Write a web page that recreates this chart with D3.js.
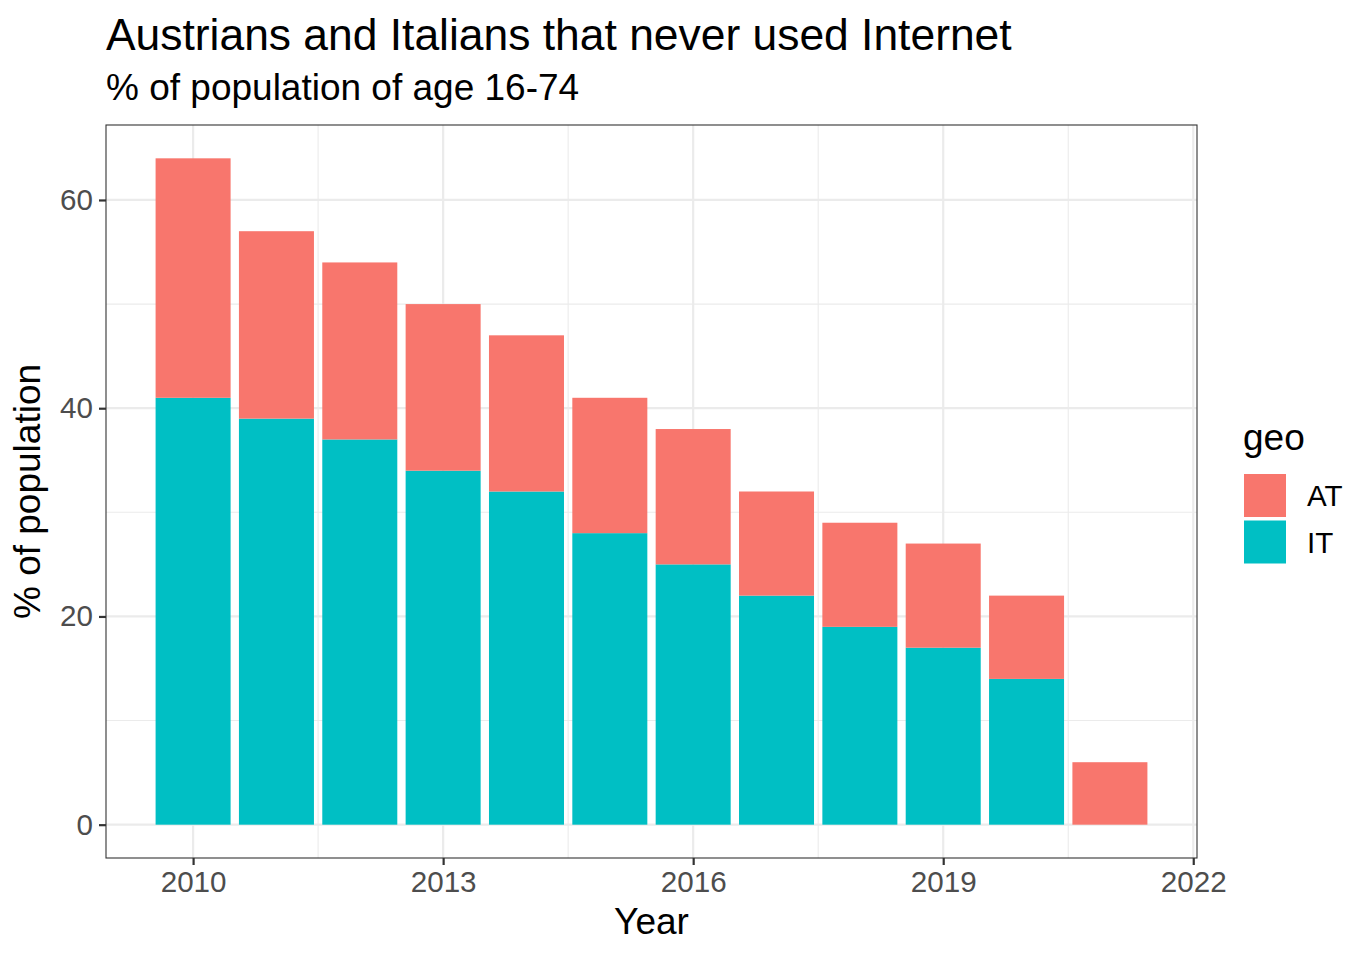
<!DOCTYPE html>
<html><head><meta charset="utf-8">
<script src="https://cdn.jsdelivr.net/npm/d3@7"></script>
<style>body{margin:0;background:#fff}svg text{font-family:"Liberation Sans",Arial,sans-serif}</style>
</head><body>
<svg id="chart" width="1371" height="959"></svg>
<script>
const years = [2010,2011,2012,2013,2014,2015,2016,2017,2018,2019,2020,2021];
const itValues = [41,39,37,34,32,28,25,22,19,17,14,null];
const atValues = [23,18,17,16,15,13,13,10,10,10,8,6];
const seriesNames = ["AT","IT"];
const seriesColors = ["#F8766D","#00BFC4"];
const xTicks = [2010,2013,2016,2019,2022];
const xMinor = [2011.5,2014.5,2017.5,2020.5];
const yTicks = [0,20,40,60];
const yMinor = [10,30,50];
const title = "Austrians and Italians that never used Internet";
const subtitle = "% of population of age 16-74";

const svg = d3.select("#chart");
const L=106, R=1197, T=125, B=858;
const x = d3.scaleLinear().domain([2008.955,2022.045]).range([L,R]);
const y = d3.scaleLinear().domain([-3.2,67.2]).range([B,T]);
const base = 37, tickSize = 29.6;

// grid
const g = svg.append("g");
g.selectAll(".xm").data(xMinor).join("line").attr("x1",d=>x(d)).attr("x2",d=>x(d)).attr("y1",T).attr("y2",B).attr("stroke","#EBEBEB").attr("stroke-width",1.1);
g.selectAll(".ym").data(yMinor).join("line").attr("y1",d=>y(d)).attr("y2",d=>y(d)).attr("x1",L).attr("x2",R).attr("stroke","#EBEBEB").attr("stroke-width",1.1);
g.selectAll(".xM").data(xTicks).join("line").attr("x1",d=>x(d)).attr("x2",d=>x(d)).attr("y1",T).attr("y2",B).attr("stroke","#EBEBEB").attr("stroke-width",2.2);
g.selectAll(".yM").data(yTicks).join("line").attr("y1",d=>y(d)).attr("y2",d=>y(d)).attr("x1",L).attr("x2",R).attr("stroke","#EBEBEB").attr("stroke-width",2.2);

// bars
const bw = 0.9;
const rows = years.map((yr,i)=>({yr, IT: itValues[i]||0, AT: atValues[i]||0}));
const stack = d3.stack().keys(["IT","AT"])(rows);
const color = d3.scaleOrdinal().domain(seriesNames).range(seriesColors);
svg.append("g").selectAll("g").data(stack).join("g").attr("fill",d=>color(d.key))
  .selectAll("rect").data(d=>d.filter(s=>s[1]-s[0]>0)).join("rect")
  .attr("x",d=>x(d.data.yr-bw/2)).attr("width",d=>x(d.data.yr+bw/2)-x(d.data.yr-bw/2))
  .attr("y",d=>y(d[1])).attr("height",d=>y(d[0])-y(d[1]));

// border
svg.append("rect").attr("x",L).attr("y",T).attr("width",R-L).attr("height",B-T).attr("fill","none").attr("stroke","#333333").attr("stroke-width",1.1);

// axes
const xa = svg.append("g").attr("transform",`translate(0,${B})`).call(d3.axisBottom(x).tickValues(xTicks).tickFormat(d3.format("d")).tickSize(7).tickPadding(6));
const ya = svg.append("g").attr("transform",`translate(${L},0)`).call(d3.axisLeft(y).tickValues(yTicks).tickSize(7).tickPadding(6));
[xa,ya].forEach(a=>{a.select(".domain").remove();a.selectAll(".tick line").attr("stroke","#333333").attr("stroke-width",2.2);a.selectAll(".tick text").attr("fill","#4D4D4D").attr("font-size",tickSize).attr("font-family","Liberation Sans, Arial, sans-serif");});

// titles
svg.append("text").attr("x",L).attr("y",50).attr("font-size",44.4).attr("fill","#000").text(title);
svg.append("text").attr("x",L).attr("y",100).attr("font-size",base).attr("fill","#000").text(subtitle);
svg.append("text").attr("x",(L+R)/2).attr("y",934).attr("text-anchor","middle").attr("font-size",base).text("Year");
svg.append("text").attr("transform",`translate(40,${(T+B)/2}) rotate(-90)`).attr("text-anchor","middle").attr("font-size",base).text("% of population");

// legend
const lg = svg.append("g");
lg.append("text").attr("x",1243).attr("y",450).attr("font-size",base).text("geo");
seriesNames.forEach((n,i)=>{
  const yy = 474 + i*46.5;
  lg.append("rect").attr("x",1244).attr("y",yy).attr("width",42).attr("height",43).attr("fill",seriesColors[i]);
  lg.append("text").attr("x",1307).attr("y",yy+21.5).attr("dy","0.36em").attr("font-size",tickSize).text(n);
});
</script>
</body></html>
